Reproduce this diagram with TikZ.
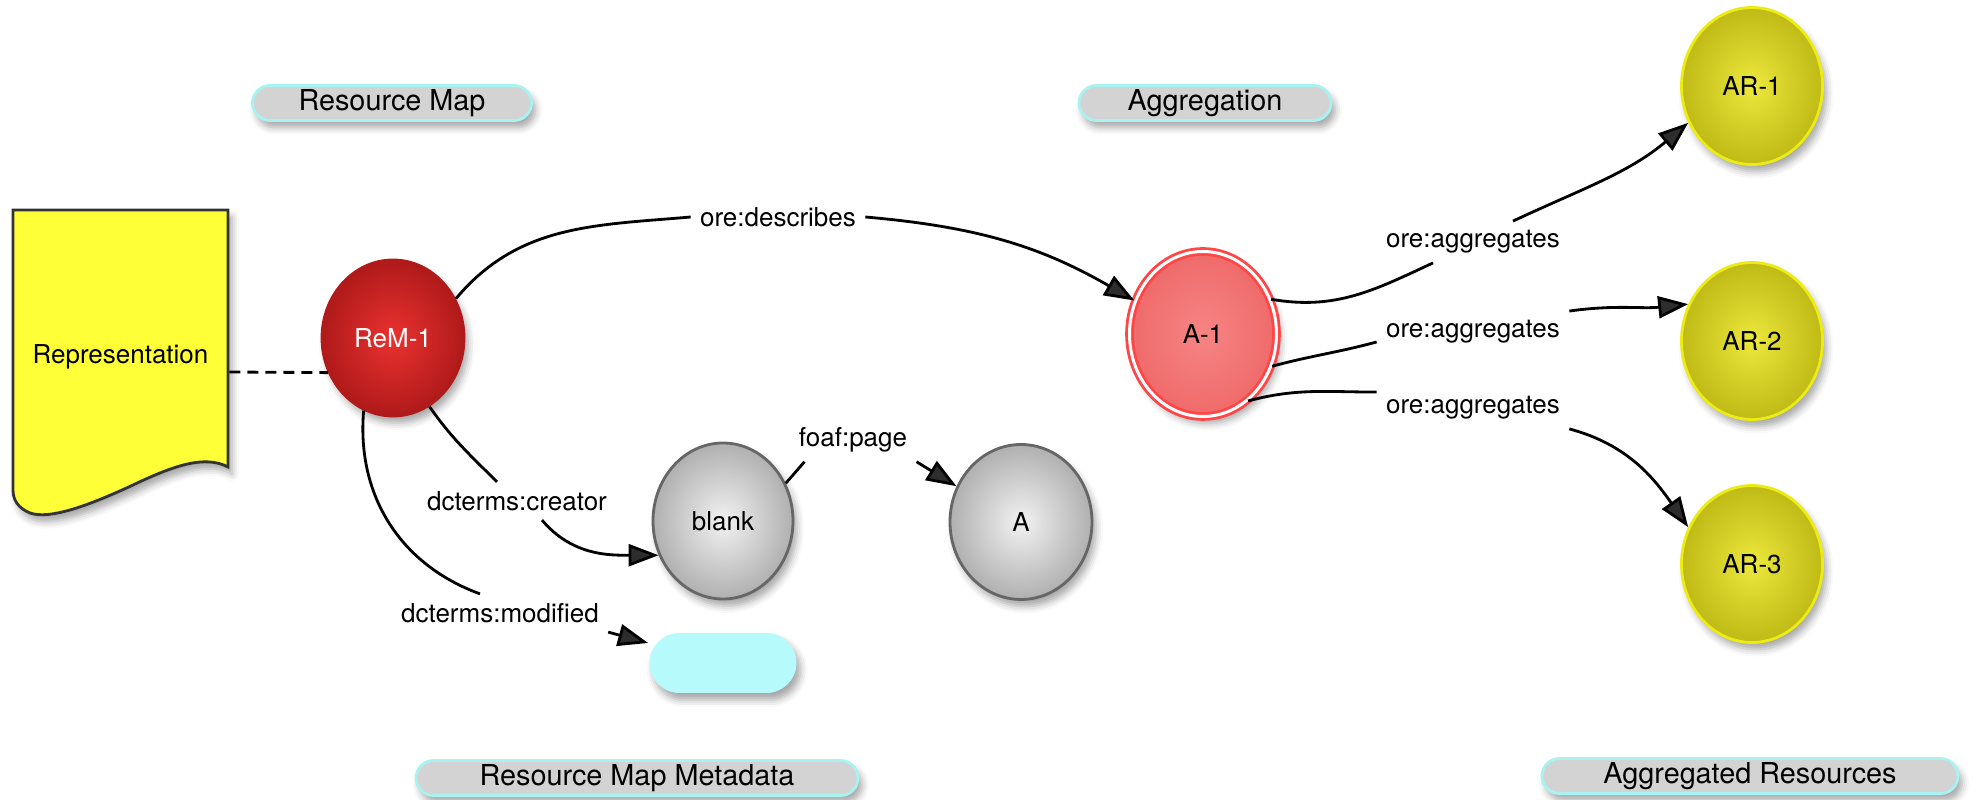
\documentclass[tikz,border=0pt]{standalone}
\usepackage{fontspec}
\setmainfont{TeX Gyre Heros}
\usetikzlibrary{arrows.meta}
\usetikzlibrary{shapes.geometric}
\usetikzlibrary{shapes.misc}
\usetikzlibrary{shadows.blur}

\definecolor{docyellow}{HTML}{FFFF38}
\definecolor{remin}{HTML}{EA3230}
\definecolor{remout}{HTML}{B01A1A}
\definecolor{aggred}{HTML}{FF4545}
\definecolor{aggin}{HTML}{F78484}
\definecolor{aggout}{HTML}{EF6A6A}
\definecolor{arin}{HTML}{ECE83C}
\definecolor{arout}{HTML}{C0BA16}
\definecolor{aredge}{HTML}{ECEC14}
\definecolor{grayin}{HTML}{F2F2F2}
\definecolor{grayout}{HTML}{B0B0B0}
\definecolor{pillgray}{HTML}{D3D3D3}
\definecolor{pillcyan}{HTML}{A8F2F2}
\definecolor{datecyan}{HTML}{B6FAFC}

\tikzset{
    softshadow/.style={blur shadow={shadow xshift=0.04cm, shadow yshift=-0.07cm, shadow blur radius=0.07cm, shadow opacity=35}},
    ball/.style={ellipse, inner sep=0pt, minimum width=1.41cm, minimum height=1.57cm, shading=radial, softshadow},
    remball/.style={ball, draw=remout, inner color=remin, outer color=remout, text=white},
    aggball/.style={ball, draw=aggred, double=white, double distance=0.03cm, inner color=aggin, outer color=aggout, minimum width=1.47cm, minimum height=1.65cm},
    arball/.style={ball, draw=aredge, inner color=arin, outer color=arout},
    grayball/.style={ball, draw=gray!80!black, inner color=grayin, outer color=grayout},
    pill/.style={rounded rectangle, draw=pillcyan, line width=0.8pt, fill=pillgray, minimum height=0.35cm, inner sep=0pt, font=\fontsize{8.2pt}{10pt}\selectfont, softshadow},
    elabel/.style={inner sep=0.08cm}
}

\begin{document}
\begin{tikzpicture}[font=\fontsize{7.4pt}{9pt}\selectfont, line width=0.8pt, >={Triangle[length=0.3cm,width=0.22cm]}]
    \useasboundingbox (0,0) rectangle (19.79,8);

    \path[fill=docyellow, draw=black!80, softshadow] (0.13,5.90) -- (2.28,5.90) -- (2.28,3.33)
        .. controls (2.05,3.45) and (1.75,3.35) .. (1.33,3.15)
        .. controls (0.90,2.95) and (0.50,2.80) .. (0.30,2.87)
        .. controls (0.18,2.92) and (0.13,3.00) .. (0.13,3.10) -- cycle;
    \node[minimum width=2.15cm, inner sep=0pt] (rep) at (1.205,4.43) {Representation};

    \node[pill, minimum width=2.79cm] (resmap) at (3.92,6.97) {Resource Map};
    \node[pill, minimum width=2.52cm] (aggr) at (12.05,6.97) {Aggregation};
    \node[pill, minimum width=4.42cm] (rmmeta) at (6.37,0.22) {Resource Map Metadata};
    \node[pill, minimum width=4.16cm] (aggres) at (17.50,0.24) {Aggregated Resources};

    \node[remball, minimum width=1.42cm, minimum height=1.56cm] (rem) at (3.93,4.62) {ReM-1};
    \node[aggball] (agg) at (12.03,4.66) {A-1};
    \node[arball] (ar1) at (17.52,7.14) {AR-1};
    \node[arball] (ar2) at (17.52,4.59) {AR-2};
    \node[arball] (ar3) at (17.52,2.36) {AR-3};
    \node[grayball, minimum width=1.40cm, minimum height=1.56cm] (blank) at (7.23,2.79) {blank};
    \node[grayball, minimum width=1.42cm, minimum height=1.55cm] (apage) at (10.21,2.78) {A};
    \node[rounded corners=0.3cm, fill=datecyan, minimum width=1.47cm, minimum height=0.60cm, softshadow] (mdate) at (7.23,1.37) {};

    \node[elabel] (ldesc) at (7.78,5.83) {ore:describes};
    \node[elabel] (lagg1) at (14.73,5.58) {ore:aggregates};
    \node[elabel] (lagg2) at (14.73,4.68) {ore:aggregates};
    \node[elabel] (lagg3) at (14.73,3.92) {ore:aggregates};
    \node[elabel] (lcre) at (5.17,2.99) {dcterms:creator};
    \node[elabel] (lmod) at (5.00,1.87) {dcterms:modified};
    \node[elabel] (lfoaf) at (8.53,3.60) {foaf:page};

    \draw[dashed, dash pattern=on 0.11cm off 0.07cm] ([yshift=-0.15cm]rep.east) -- (rem.208);

    \draw (rem.32) to[out=50, in=185] (ldesc.west);
    \draw[->] (ldesc.east) to[out=-5, in=150] (agg.154);
    \draw (agg.27) to[out=-10, in=205] ([xshift=-0.4cm]lagg1.south);
    \draw[->] ([xshift=0.4cm]lagg1.north) to[out=25, in=220] (ar1.210);
    \draw (agg.-25) to[out=15, in=195] ([yshift=-0.1cm]lagg2.west);
    \draw[->] (lagg2.north east) to[out=8, in=186] (ar2.150);
    \draw (agg.-56) to[out=15, in=180] ([yshift=-0.05cm]lagg3.north west);
    \draw[->] (lagg3.south east) to[out=-15, in=125] (ar3.150);
    \draw (rem.-62) to[out=-55, in=135] ([xshift=-0.2cm]lcre.north);
    \draw[->] ([xshift=0.25cm]lcre.south) to[out=-50, in=180] (blank.208);
    \draw (rem.-112) to[out=-95, in=160] ([xshift=-0.2cm]lmod.north);
    \draw[->] (lmod.south east) -- ([yshift=0.2cm]mdate.west);
    \draw (blank.31) -- ([xshift=0.15cm]lfoaf.south west);
    \draw[->] (lfoaf.south east) -- (apage.151);
\end{tikzpicture}
\end{document}
